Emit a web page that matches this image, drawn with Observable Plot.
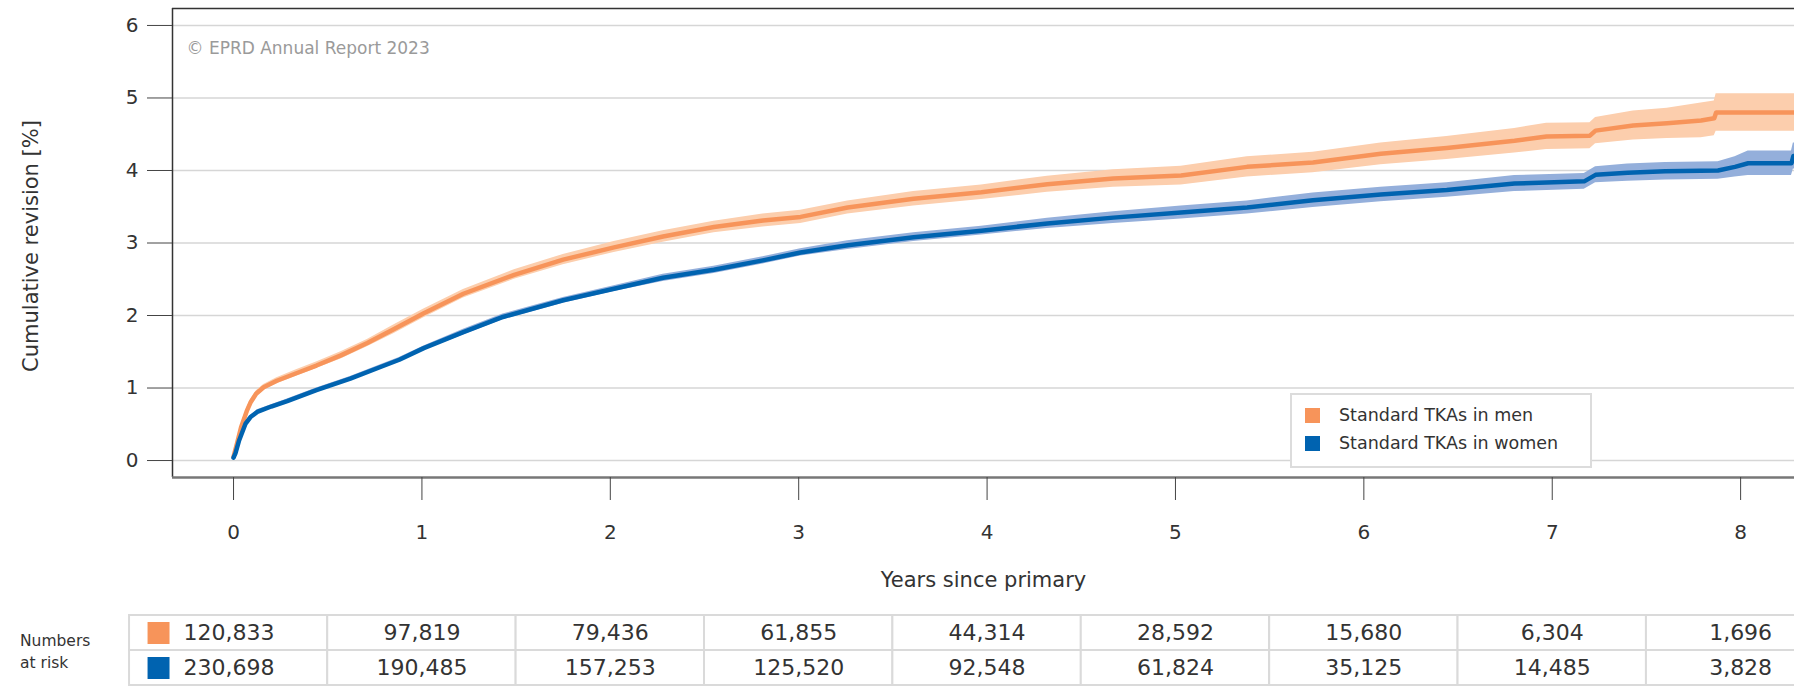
<!DOCTYPE html>
<html>
<head>
<meta charset="utf-8">
<script src="https://cdn.jsdelivr.net/npm/d3@7"></script>
<script src="https://cdn.jsdelivr.net/npm/@observablehq/plot@0.6"></script>
<style>
  html, body { margin: 0; padding: 0; background: #fff; }
  #wrap { position: relative; width: 1794px; height: 688px; overflow: hidden; font-family: "DejaVu Sans", sans-serif; }
  #wrap svg { display: block; }
  #legend { position: absolute; left: 1290px; top: 393px; width: 298px; height: 71px; border: 2px solid #dcdcdc; background: #fff; color: #333; font-size: 17.5px; }
  .lg-item { position: absolute; left: 13px; height: 24px; display: flex; align-items: center; white-space: nowrap; }
  .lg-sw { width: 15px; height: 15px; margin-right: 19px; }
  #risklabel { position: absolute; left: 20px; top: 630px; font-size: 15.5px; line-height: 22px; color: #333; }
</style>
</head>
<body>
<div id="wrap">
  <div id="main"></div>
  <div id="table"></div>
  <div id="legend"></div>
  <div id="risklabel">Numbers<br>at risk</div>
</div>
<script>
// ---------- data ----------
const seriesNames = ["Standard TKAs in men", "Standard TKAs in women"];
const lineColors = ["#F7945A", "#0063B0"];
const bandColors = ["#FCCEAD", "#94AFDB"];

const years = [0, 1, 2, 3, 4, 5, 6, 7, 8];
const yTicks = [0, 1, 2, 3, 4, 5, 6];

const menT  = [0, 0.02, 0.04, 0.07, 0.09, 0.12, 0.16, 0.23, 0.33, 0.44, 0.57, 0.71, 0.85, 1.01, 1.22, 1.49, 1.75, 2.02, 2.28, 2.55, 2.81, 3.01, 3.26, 3.61, 3.97, 4.32, 4.67, 5.03, 5.38, 5.73, 6.09, 6.44, 6.8, 6.97, 7.2, 7.23, 7.43, 7.61, 7.79, 7.86, 7.87, 8.3];
const menV  = [0.05, 0.25, 0.46, 0.68, 0.80, 0.92, 1.01, 1.10, 1.20, 1.31, 1.45, 1.62, 1.81, 2.03, 2.30, 2.56, 2.77, 2.94, 3.09, 3.22, 3.31, 3.36, 3.49, 3.61, 3.70, 3.81, 3.89, 3.93, 4.05, 4.11, 4.23, 4.31, 4.41, 4.47, 4.48, 4.55, 4.62, 4.65, 4.69, 4.72, 4.80, 4.80];
const menLo = [0.03, 0.22, 0.42, 0.64, 0.76, 0.88, 0.97, 1.06, 1.16, 1.27, 1.40, 1.57, 1.75, 1.97, 2.24, 2.50, 2.70, 2.87, 3.01, 3.14, 3.22, 3.27, 3.40, 3.51, 3.60, 3.70, 3.77, 3.80, 3.91, 3.97, 4.08, 4.15, 4.24, 4.29, 4.30, 4.37, 4.42, 4.44, 4.45, 4.48, 4.54, 4.54];
const menHi = [0.07, 0.28, 0.50, 0.72, 0.84, 0.96, 1.05, 1.14, 1.25, 1.36, 1.50, 1.67, 1.87, 2.09, 2.36, 2.63, 2.84, 3.02, 3.17, 3.30, 3.40, 3.45, 3.58, 3.71, 3.80, 3.92, 4.01, 4.06, 4.19, 4.25, 4.38, 4.47, 4.58, 4.65, 4.66, 4.73, 4.82, 4.86, 4.93, 4.96, 5.06, 5.06];

const womenT  = [0, 0.01, 0.03, 0.064, 0.09, 0.126, 0.2, 0.285, 0.44, 0.62, 0.78, 0.88, 1.01, 1.22, 1.43, 1.75, 2.02, 2.28, 2.55, 2.81, 3.01, 3.26, 3.61, 3.97, 4.32, 4.67, 5.03, 5.38, 5.73, 6.09, 6.44, 6.8, 7.17, 7.23, 7.4, 7.6, 7.88, 7.97, 8.04, 8.27, 8.28, 8.3];
const womenV  = [0.04, 0.10, 0.28, 0.51, 0.60, 0.67, 0.745, 0.82, 0.97, 1.13, 1.29, 1.39, 1.55, 1.77, 1.98, 2.21, 2.37, 2.52, 2.63, 2.76, 2.87, 2.97, 3.08, 3.17, 3.27, 3.35, 3.42, 3.49, 3.59, 3.67, 3.73, 3.82, 3.85, 3.94, 3.97, 3.99, 4.00, 4.05, 4.10, 4.10, 4.20, 4.20];
const womenLo = [0.03, 0.09, 0.26, 0.49, 0.58, 0.64, 0.72, 0.79, 0.94, 1.10, 1.26, 1.36, 1.52, 1.73, 1.94, 2.17, 2.33, 2.47, 2.58, 2.71, 2.82, 2.91, 3.02, 3.11, 3.20, 3.27, 3.33, 3.40, 3.49, 3.57, 3.63, 3.71, 3.74, 3.83, 3.85, 3.87, 3.88, 3.91, 3.93, 3.93, 4.02, 4.02];
const womenHi = [0.05, 0.11, 0.30, 0.53, 0.62, 0.70, 0.77, 0.85, 1.00, 1.16, 1.32, 1.42, 1.58, 1.81, 2.02, 2.25, 2.41, 2.57, 2.68, 2.81, 2.92, 3.03, 3.14, 3.23, 3.34, 3.43, 3.51, 3.58, 3.69, 3.77, 3.83, 3.93, 3.96, 4.05, 4.09, 4.11, 4.12, 4.19, 4.27, 4.27, 4.38, 4.38];

const riskMen   = [120833, 97819, 79436, 61855, 44314, 28592, 15680, 6304, 1696];
const riskWomen = [230698, 190485, 157253, 125520, 92548, 61824, 35125, 14485, 3828];

const copyright = "© EPRD Annual Report 2023";
const xLabel = "Years since primary";
const yLabel = "Cumulative revision [%]";

// ---------- build tables ----------
const men = menT.map((t, i) => ({t, v: menV[i], lo: menLo[i], hi: menHi[i]}));
const women = womenT.map((t, i) => ({t, v: womenV[i], lo: womenLo[i], hi: womenHi[i]}));

const xDomain = [-0.324, 8.286];
const yDomain = [-0.234, 6.234];
const W = 1794;
const font = "DejaVu Sans";
const intFmt = d3.format("d");

const main = Plot.plot({
  width: W, height: 600,
  marginLeft: 172, marginRight: 0, marginTop: 8, marginBottom: 123,
  x: {domain: xDomain, label: null},
  y: {domain: yDomain, label: null},
  style: {fontFamily: font, color: "#333", background: "white", overflow: "visible"},
  marks: [
    Plot.gridY({ticks: yTicks, stroke: "#d6d6d6", strokeOpacity: 1, strokeWidth: 1.5}),
    Plot.areaY(men, {x: "t", y1: "lo", y2: "hi", fill: bandColors[0]}),
    Plot.areaY(women, {x: "t", y1: "lo", y2: "hi", fill: bandColors[1]}),
    Plot.line(men, {x: "t", y: "v", stroke: lineColors[0], strokeWidth: 4.5, strokeLinecap: "round", strokeLinejoin: "round"}),
    Plot.line(women, {x: "t", y: "v", stroke: lineColors[1], strokeWidth: 4.5, strokeLinecap: "round", strokeLinejoin: "round"}),
    Plot.ruleX([xDomain[0]], {stroke: "#333", strokeWidth: 1.5}),
    Plot.ruleY([yDomain[1]], {stroke: "#333", strokeWidth: 1.5}),
    Plot.ruleY([yDomain[0]], {stroke: "#777", strokeWidth: 2.5}),
    Plot.axisY({ticks: yTicks, tickFormat: intFmt, tickSize: 25, tickPadding: 9, fontSize: 20, stroke: "#444", label: null}),
    Plot.axisX({ticks: years, tickFormat: intFmt, tickSize: 23, tickPadding: 24, fontSize: 20, stroke: "#444", label: null}),
    Plot.text([copyright], {frameAnchor: "top-left", dx: 14, dy: 40, textAnchor: "start", lineAnchor: "middle", fill: "#9a9a9a", fontSize: 17}),
    Plot.text([yLabel], {frameAnchor: "left", dx: -141, dy: 3, rotate: -90, textAnchor: "middle", lineAnchor: "middle", fontSize: 21, fill: "#333"}),
    Plot.text([xLabel], {frameAnchor: "bottom", dy: 103, textAnchor: "middle", lineAnchor: "middle", fontSize: 21, fill: "#333"})
  ]
});
document.getElementById("main").appendChild(main);

// ---------- numbers at risk table ----------
const rows = ["men", "women"];
const risks = [riskMen, riskWomen];
const cells = [];
rows.forEach((row, r) => years.forEach((yr, i) => cells.push({
  row, yr, i, value: risks[r][i],
  x1: i === 0 ? yr - 0.552 : yr - 0.5,
  x2: yr + 0.5
})));
const fmt = d3.format(",");

const table = Plot.plot({
  width: W, height: 88,
  marginLeft: 172, marginRight: 0, marginTop: 14, marginBottom: 3,
  x: {domain: xDomain, axis: null},
  y: {domain: rows, padding: 0, axis: null},
  style: {fontFamily: font, color: "#333", background: "white", overflow: "visible"},
  marks: [
    Plot.barX(cells, {x1: "x1", x2: "x2", y: "row", fill: "white", stroke: "#dadada", strokeWidth: 2}),
    Plot.dot(rows, {x: () => years[0], y: d => d, symbol: "square", r: 12.4, dx: -75, fill: (d, i) => lineColors[i], stroke: null}),
    Plot.text(cells.filter(c => c.i === 0), {x: "yr", y: "row", text: d => fmt(d.value), textAnchor: "start", dx: -50, fontSize: 22, fill: "#333"}),
    Plot.text(cells.filter(c => c.i > 0), {x: "yr", y: "row", text: d => fmt(d.value), fontSize: 22, fill: "#333"})
  ]
});
document.getElementById("table").appendChild(table);

// ---------- legend ----------
const legend = document.getElementById("legend");
seriesNames.forEach((name, i) => {
  const item = document.createElement("div");
  item.className = "lg-item";
  item.style.top = (8 + i * 28) + "px";
  const sw = document.createElement("span");
  sw.className = "lg-sw";
  sw.style.background = lineColors[i];
  const tx = document.createElement("span");
  tx.textContent = name;
  item.appendChild(sw);
  item.appendChild(tx);
  legend.appendChild(item);
});
</script>
</body>
</html>
